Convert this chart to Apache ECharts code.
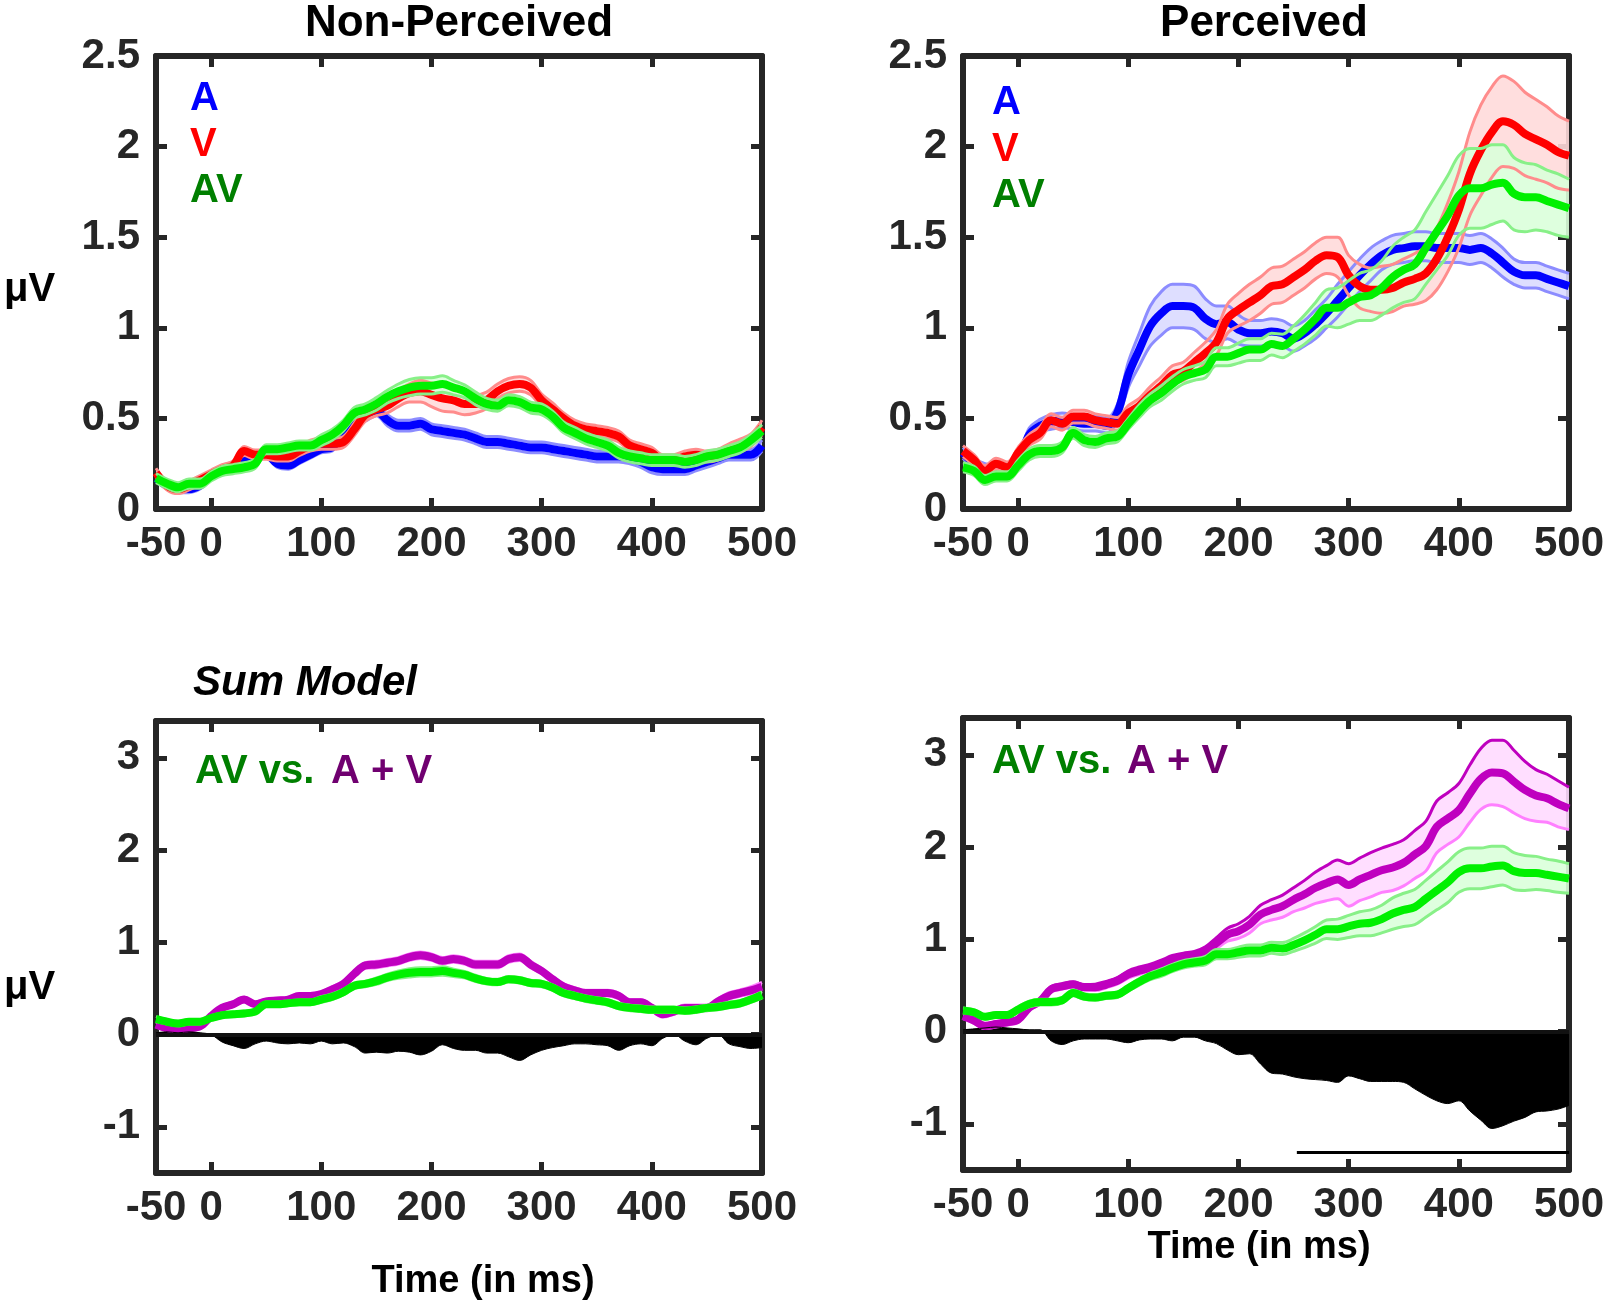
<!DOCTYPE html>
<html>
<head>
<meta charset="utf-8">
<title>AV vs A + V</title>
<script src="https://cdn.jsdelivr.net/npm/echarts@6/dist/echarts.min.js"></script>
<style>
  html, body { margin: 0; padding: 0; background: #fff; }
  #chart { width: 1610px; height: 1308px; }
</style>
</head>
<body>
<div id="chart"></div>
<script>
// sample times (ms)
const times = [-50, -40, -30, -20, -10, 0, 10, 20, 30, 40,
  50, 60, 70, 80, 90, 100, 110, 120, 130, 140,
  150, 160, 170, 180, 190, 200, 210, 220, 230, 240,
  250, 260, 270, 280, 290, 300, 310, 320, 330, 340,
  350, 360, 370, 380, 390, 400, 410, 420, 430, 440,
  450, 460, 470, 480, 490, 500]

const xTicks = [0, 100, 200, 300, 400]
const xLabels = [-50, 0, 100, 200, 300, 400, 500]
const yTicksTop = [0, 0.5, 1, 1.5, 2, 2.5]
const yTicksBottom = [-1, 0, 1, 2, 3]

// Non-Perceived: mean and half-width of shaded band
const npA = [0.17, 0.13, 0.11, 0.11, 0.13, 0.18, 0.22, 0.24, 0.27, 0.29,
  0.30, 0.25, 0.24, 0.27, 0.30, 0.33, 0.34, 0.42, 0.49, 0.51,
  0.54, 0.49, 0.46, 0.46, 0.47, 0.44, 0.43, 0.42, 0.41, 0.39,
  0.37, 0.37, 0.36, 0.35, 0.34, 0.34, 0.33, 0.32, 0.31, 0.30,
  0.29, 0.29, 0.29, 0.28, 0.26, 0.23, 0.22, 0.22, 0.22, 0.24,
  0.26, 0.28, 0.30, 0.30, 0.30, 0.35]
const npAse = [0.02, 0.02, 0.02, 0.02, 0.02, 0.02, 0.02, 0.02, 0.02, 0.02,
  0.02, 0.02, 0.02, 0.02, 0.02, 0.02, 0.02, 0.02, 0.025, 0.025,
  0.025, 0.03, 0.03, 0.03, 0.03, 0.03, 0.03, 0.03, 0.03, 0.03,
  0.03, 0.03, 0.03, 0.03, 0.03, 0.03, 0.03, 0.03, 0.03, 0.03,
  0.03, 0.03, 0.03, 0.03, 0.03, 0.03, 0.03, 0.03, 0.03, 0.03,
  0.03, 0.03, 0.03, 0.03, 0.03, 0.03]
const npV = [0.20, 0.13, 0.11, 0.13, 0.16, 0.19, 0.22, 0.24, 0.32, 0.30,
  0.30, 0.29, 0.29, 0.32, 0.35, 0.36, 0.36, 0.37, 0.44, 0.52,
  0.55, 0.57, 0.61, 0.64, 0.65, 0.63, 0.61, 0.60, 0.58, 0.58,
  0.60, 0.65, 0.68, 0.69, 0.67, 0.60, 0.55, 0.50, 0.46, 0.44,
  0.43, 0.42, 0.40, 0.35, 0.33, 0.31, 0.27, 0.27, 0.29, 0.30,
  0.29, 0.30, 0.33, 0.35, 0.38, 0.45]
const npVse = [0.025, 0.025, 0.025, 0.025, 0.025, 0.025, 0.025, 0.025, 0.025, 0.025,
  0.025, 0.025, 0.025, 0.025, 0.03, 0.03, 0.03, 0.03, 0.035, 0.035,
  0.035, 0.04, 0.045, 0.05, 0.06, 0.065, 0.07, 0.065, 0.06, 0.05,
  0.045, 0.04, 0.04, 0.04, 0.04, 0.035, 0.035, 0.03, 0.03, 0.03,
  0.03, 0.03, 0.03, 0.03, 0.03, 0.03, 0.03, 0.03, 0.03, 0.03,
  0.03, 0.03, 0.03, 0.035, 0.035, 0.04]
const npAV = [0.17, 0.14, 0.12, 0.14, 0.14, 0.18, 0.21, 0.22, 0.23, 0.25,
  0.33, 0.33, 0.34, 0.35, 0.35, 0.38, 0.41, 0.46, 0.53, 0.55,
  0.58, 0.62, 0.65, 0.67, 0.68, 0.68, 0.69, 0.67, 0.65, 0.61,
  0.58, 0.57, 0.60, 0.59, 0.56, 0.55, 0.51, 0.45, 0.42, 0.39,
  0.37, 0.35, 0.31, 0.29, 0.28, 0.27, 0.27, 0.27, 0.26, 0.27,
  0.29, 0.30, 0.32, 0.34, 0.38, 0.43]
const npAVse = [0.025, 0.025, 0.025, 0.025, 0.025, 0.025, 0.025, 0.025, 0.025, 0.025,
  0.025, 0.025, 0.025, 0.025, 0.025, 0.03, 0.03, 0.03, 0.03, 0.03,
  0.035, 0.035, 0.04, 0.045, 0.045, 0.045, 0.045, 0.04, 0.035, 0.035,
  0.03, 0.03, 0.03, 0.03, 0.03, 0.03, 0.03, 0.03, 0.03, 0.03,
  0.03, 0.03, 0.03, 0.03, 0.03, 0.03, 0.03, 0.03, 0.03, 0.03,
  0.03, 0.03, 0.03, 0.03, 0.03, 0.035]

// Perceived
const pA = [0.31, 0.25, 0.22, 0.21, 0.22, 0.26, 0.41, 0.46, 0.48, 0.49,
  0.48, 0.47, 0.47, 0.46, 0.53, 0.74, 0.88, 1.01, 1.08, 1.12,
  1.12, 1.11, 1.05, 1.02, 1.03, 0.99, 0.97, 0.97, 0.98, 0.97,
  0.94, 0.97, 1.02, 1.08, 1.15, 1.22, 1.29, 1.35, 1.40, 1.43,
  1.44, 1.45, 1.45, 1.44, 1.44, 1.44, 1.43, 1.44, 1.41, 1.36,
  1.31, 1.29, 1.29, 1.27, 1.25, 1.23]
const pAse = [0.03, 0.03, 0.03, 0.03, 0.03, 0.03, 0.035, 0.035, 0.04, 0.04,
  0.04, 0.04, 0.04, 0.04, 0.045, 0.07, 0.09, 0.11, 0.12, 0.12,
  0.12, 0.12, 0.11, 0.1, 0.09, 0.08, 0.07, 0.07, 0.07, 0.07,
  0.07, 0.07, 0.08, 0.08, 0.09, 0.09, 0.09, 0.09, 0.08, 0.08,
  0.08, 0.08, 0.08, 0.08, 0.08, 0.08, 0.08, 0.08, 0.08, 0.08,
  0.07, 0.07, 0.07, 0.07, 0.07, 0.07]
const pV = [0.32, 0.27, 0.21, 0.25, 0.23, 0.31, 0.38, 0.42, 0.49, 0.47,
  0.51, 0.51, 0.49, 0.48, 0.47, 0.53, 0.57, 0.63, 0.68, 0.74,
  0.76, 0.81, 0.86, 0.92, 1.05, 1.10, 1.14, 1.18, 1.23, 1.24,
  1.28, 1.32, 1.37, 1.40, 1.39, 1.29, 1.23, 1.21, 1.21, 1.22,
  1.25, 1.27, 1.30, 1.38, 1.50, 1.65, 1.85, 1.98, 2.08, 2.14,
  2.12, 2.07, 2.04, 2.01, 1.97, 1.95]
const pVse = [0.03, 0.03, 0.03, 0.03, 0.03, 0.03, 0.03, 0.035, 0.035, 0.035,
  0.035, 0.035, 0.035, 0.035, 0.035, 0.04, 0.04, 0.045, 0.05, 0.05,
  0.05, 0.055, 0.06, 0.07, 0.08, 0.09, 0.1, 0.1, 0.1, 0.1,
  0.1, 0.1, 0.1, 0.1, 0.11, 0.11, 0.12, 0.12, 0.13, 0.13,
  0.13, 0.14, 0.15, 0.17, 0.19, 0.21, 0.23, 0.25, 0.25, 0.25,
  0.24, 0.23, 0.22, 0.21, 0.2, 0.19]
const pAV = [0.23, 0.21, 0.16, 0.18, 0.18, 0.24, 0.30, 0.32, 0.32, 0.34,
  0.42, 0.38, 0.37, 0.39, 0.40, 0.47, 0.54, 0.60, 0.64, 0.69,
  0.73, 0.75, 0.77, 0.84, 0.84, 0.86, 0.88, 0.88, 0.91, 0.90,
  0.94, 0.99, 1.05, 1.11, 1.11, 1.14, 1.17, 1.18, 1.22, 1.28,
  1.32, 1.35, 1.44, 1.53, 1.62, 1.73, 1.77, 1.77, 1.79, 1.80,
  1.74, 1.72, 1.72, 1.70, 1.68, 1.66]
const pAVse = [0.025, 0.025, 0.025, 0.025, 0.025, 0.03, 0.03, 0.03, 0.03, 0.03,
  0.03, 0.03, 0.03, 0.03, 0.03, 0.03, 0.035, 0.035, 0.04, 0.04,
  0.04, 0.04, 0.045, 0.05, 0.05, 0.055, 0.06, 0.06, 0.06, 0.065,
  0.07, 0.08, 0.09, 0.1, 0.11, 0.12, 0.13, 0.14, 0.15, 0.17,
  0.18, 0.19, 0.2, 0.21, 0.22, 0.22, 0.22, 0.22, 0.22, 0.21,
  0.2, 0.19, 0.18, 0.17, 0.17, 0.16]

// Sum model A + V and AV - (A + V) difference
const npSum = [0.11, 0.07, 0.06, 0.07, 0.09, 0.20, 0.29, 0.33, 0.38, 0.33,
  0.36, 0.37, 0.38, 0.42, 0.42, 0.44, 0.49, 0.55, 0.66, 0.75,
  0.76, 0.78, 0.80, 0.84, 0.86, 0.84, 0.80, 0.82, 0.80, 0.76,
  0.76, 0.76, 0.82, 0.84, 0.76, 0.69, 0.60, 0.52, 0.48, 0.45,
  0.45, 0.45, 0.42, 0.35, 0.35, 0.29, 0.22, 0.25, 0.29, 0.29,
  0.29, 0.36, 0.42, 0.45, 0.48, 0.52]
const npSumSe = [0.025, 0.025, 0.025, 0.025, 0.025, 0.025, 0.025, 0.025, 0.025, 0.025,
  0.025, 0.025, 0.025, 0.025, 0.025, 0.025, 0.03, 0.03, 0.03, 0.03,
  0.035, 0.035, 0.035, 0.035, 0.035, 0.035, 0.035, 0.035, 0.035, 0.035,
  0.035, 0.035, 0.035, 0.035, 0.035, 0.03, 0.03, 0.03, 0.03, 0.03,
  0.03, 0.03, 0.03, 0.03, 0.03, 0.03, 0.03, 0.03, 0.03, 0.03,
  0.03, 0.03, 0.035, 0.035, 0.04, 0.045]
const npDiff = [0.02, 0.03, 0.02, 0.03, 0.02, 0.0, -0.08, -0.12, -0.15, -0.10,
  -0.07, -0.09, -0.10, -0.09, -0.10, -0.07, -0.10, -0.09, -0.13, -0.20,
  -0.19, -0.20, -0.18, -0.19, -0.22, -0.18, -0.11, -0.15, -0.17, -0.17,
  -0.20, -0.20, -0.24, -0.28, -0.22, -0.17, -0.14, -0.12, -0.10, -0.10,
  -0.11, -0.12, -0.17, -0.12, -0.10, -0.12, -0.04, 0.0, -0.07, -0.11,
  -0.04, 0.0, -0.10, -0.13, -0.15, -0.14]
const pSum = [0.17, 0.12, 0.06, 0.08, 0.10, 0.13, 0.26, 0.33, 0.46, 0.49,
  0.51, 0.48, 0.48, 0.51, 0.55, 0.62, 0.66, 0.69, 0.73, 0.78,
  0.80, 0.82, 0.87, 0.96, 1.05, 1.09, 1.16, 1.27, 1.32, 1.36,
  1.43, 1.49, 1.56, 1.61, 1.65, 1.59, 1.65, 1.70, 1.75, 1.78,
  1.83, 1.92, 2.01, 2.22, 2.31, 2.40, 2.58, 2.74, 2.81, 2.80,
  2.71, 2.62, 2.56, 2.53, 2.47, 2.42]
const pSumSe = [0.03, 0.03, 0.03, 0.03, 0.03, 0.03, 0.03, 0.03, 0.03, 0.03,
  0.03, 0.03, 0.035, 0.035, 0.035, 0.04, 0.04, 0.04, 0.045, 0.045,
  0.05, 0.05, 0.05, 0.06, 0.07, 0.08, 0.09, 0.1, 0.11, 0.12,
  0.13, 0.15, 0.17, 0.19, 0.21, 0.23, 0.23, 0.24, 0.24, 0.25,
  0.25, 0.26, 0.27, 0.28, 0.28, 0.29, 0.31, 0.33, 0.35, 0.36,
  0.34, 0.31, 0.28, 0.26, 0.25, 0.23]
const pDiff = [0.02, 0.03, 0.04, 0.05, 0.04, 0.03, 0.02, 0.02, -0.10, -0.14,
  -0.10, -0.08, -0.08, -0.08, -0.10, -0.12, -0.09, -0.08, -0.08, -0.10,
  -0.06, -0.06, -0.10, -0.13, -0.20, -0.25, -0.24, -0.35, -0.45, -0.46,
  -0.49, -0.51, -0.52, -0.53, -0.55, -0.48, -0.51, -0.54, -0.54, -0.54,
  -0.55, -0.62, -0.69, -0.75, -0.78, -0.75, -0.86, -0.96, -1.05, -1.02,
  -0.97, -0.93, -0.87, -0.86, -0.84, -0.80]

// significant window (ms) and the level the bar is drawn at
const sigWindow = [253, 500]
const sigLevel = -1.31

const FONT = "'Liberation Sans', Arial, Helvetica, sans-serif"
const FRAME = '#262626'
const SMOOTH = 0.35

const grids = [
  { left: 156, top: 56, width: 606, height: 453 },
  { left: 963, top: 56, width: 606, height: 453 },
  { left: 156, top: 721, width: 606, height: 452 },
  { left: 963, top: 718, width: 606, height: 452 }
]

const tickLabel = { fontFamily: FONT, fontSize: 42, fontWeight: 'bold', color: FRAME }

function xAxes(gi) {
  const base = {
    gridIndex: gi, type: 'value', min: -50, max: 500,
    splitLine: { show: false },
    axisLine: { onZero: false, lineStyle: { color: FRAME, width: 6 } },
    axisTick: { inside: true, length: 11, customValues: xTicks, lineStyle: { color: FRAME, width: 5 } }
  }
  return [
    { ...base, position: 'bottom', axisLabel: { ...tickLabel, customValues: xLabels, margin: 14 } },
    { ...base, position: 'top', axisLabel: { show: false } }
  ]
}

function yAxes(gi) {
  const top = gi < 2
  const ticks = top ? yTicksTop : yTicksBottom
  const base = {
    gridIndex: gi, type: 'value',
    min: top ? 0 : -1.5, max: top ? 2.5 : 3.4,
    splitLine: { show: false },
    axisLine: { onZero: false, lineStyle: { color: FRAME, width: 6 } },
    axisTick: { inside: true, length: 11, customValues: ticks, lineStyle: { color: FRAME, width: 5 } }
  }
  return [
    { ...base, position: 'left', axisLabel: { ...tickLabel, customValues: ticks, margin: 16 } },
    { ...base, position: 'right', axisLabel: { show: false } }
  ]
}

const COLORS = {
  A: { line: '#0000ff', lower: '#8c8cff', upper: '#8c8cff', fill: 'rgba(218,218,255,0.9)' },
  V: { line: '#ff0000', lower: '#ff8c8c', upper: '#ff8c8c', fill: 'rgba(255,218,218,0.9)' },
  AV: { line: '#00f000', lower: '#88f088', upper: '#88f088', fill: 'rgba(218,255,218,0.9)' },
  sumNp: { line: '#bf00bf', lower: '#ff80ff', upper: '#ff80ff', fill: 'rgba(255,212,255,0.9)' },
  sumP: { line: '#bf00bf', lower: '#ff80ff', upper: '#bf00bf', fill: 'rgba(255,218,255,0.9)' }
}

// shaded band between mean - se and mean + se, drawn as one polygon through the axes
function bandFill(gi, mean, se, fill) {
  return {
    type: 'custom', xAxisIndex: gi * 2, yAxisIndex: gi * 2, silent: true,
    data: times.map((t, i) => [t, mean[i] - se[i], mean[i] + se[i]]),
    encode: { x: 0, y: [1, 2] },
    renderItem(params, api) {
      if (params.dataIndex !== 0) return null
      const n = params.dataInsideLength
      const top = [], bottom = []
      for (let i = 0; i < n; i++) {
        const t = api.value(0, i)
        top.push(api.coord([t, api.value(2, i)]))
        bottom.push(api.coord([t, api.value(1, i)]))
      }
      return {
        type: 'polygon',
        shape: { points: top.concat(bottom.reverse()) },
        style: { fill: fill, stroke: null }
      }
    }
  }
}

function band(gi, name, mean, se, c) {
  const common = { type: 'line', xAxisIndex: gi * 2, yAxisIndex: gi * 2, symbol: 'none', smooth: SMOOTH, silent: true }
  return [
    bandFill(gi, mean, se, c.fill),
    { ...common, data: times.map((t, i) => [t, mean[i] - se[i]]), lineStyle: { color: c.lower, width: 3 } },
    { ...common, data: times.map((t, i) => [t, mean[i] + se[i]]), lineStyle: { color: c.upper, width: 3 } },
    { ...common, name, data: times.map((t, i) => [t, mean[i]]), lineStyle: { color: c.line, width: 8 } }
  ]
}

function diffArea(gi, diff) {
  return {
    type: 'line', xAxisIndex: gi * 2, yAxisIndex: gi * 2, symbol: 'none', smooth: SMOOTH, silent: true,
    data: times.map((t, i) => [t, diff[i]]),
    lineStyle: { color: '#000', width: 1 },
    areaStyle: { color: '#000', opacity: 1, origin: 0 },
    markLine: {
      silent: true, symbol: 'none', label: { show: false },
      lineStyle: { color: '#111', width: 4, type: 'solid' },
      data: [{ yAxis: 0 }]
    }
  }
}

const series = [
  ...band(0, 'A', npA, npAse, COLORS.A),
  ...band(0, 'V', npV, npVse, COLORS.V),
  ...band(0, 'AV', npAV, npAVse, COLORS.AV),
  ...band(1, 'A', pA, pAse, COLORS.A),
  ...band(1, 'V', pV, pVse, COLORS.V),
  ...band(1, 'AV', pAV, pAVse, COLORS.AV),
  ...band(2, 'A+V', npSum, npSumSe, COLORS.sumNp),
  ...band(2, 'AV', npAV, npAVse, COLORS.AV),
  diffArea(2, npDiff),
  ...band(3, 'A+V', pSum, pSumSe, COLORS.sumP),
  ...band(3, 'AV', pAV, pAVse, COLORS.AV),
  diffArea(3, pDiff),
  {
    type: 'line', xAxisIndex: 6, yAxisIndex: 6, symbol: 'none', silent: true,
    data: sigWindow.map(t => [t, sigLevel]),
    lineStyle: { color: '#000', width: 3 }
  }
]

function txt(text, x, y, opts) {
  return {
    type: 'text', x, y, silent: true, z: 100,
    style: Object.assign({
      text, fill: '#000',
      font: 'bold 40px ' + FONT,
      align: 'left', verticalAlign: 'middle',
      textAlign: 'left', textVerticalAlign: 'middle'
    }, opts || {})
  }
}
const center = { align: 'center', textAlign: 'center' }

const graphics = [
  txt('Non-Perceived', 459, 24, { font: 'bold 44px ' + FONT, ...center }),
  txt('Perceived', 1264, 24, { font: 'bold 44px ' + FONT, ...center }),
  txt('\u03bcV', 4, 290),
  txt('\u03bcV', 4, 988),
  txt('Sum Model', 193, 683, { font: 'italic bold 42px ' + FONT }),
  txt('Time (in ms)', 483, 1282, { font: 'bold 38px ' + FONT, ...center }),
  txt('Time (in ms)', 1259, 1248, { font: 'bold 38px ' + FONT, ...center }),
  txt('A', 190, 99, { fill: '#0000ff' }),
  txt('V', 190, 145, { fill: '#ff0000' }),
  txt('AV', 190, 191, { fill: '#007f00' }),
  txt('A', 992, 103, { fill: '#0000ff' }),
  txt('V', 992, 150, { fill: '#ff0000' }),
  txt('AV', 992, 196, { fill: '#007f00' }),
  txt('AV vs.', 195, 772, { fill: '#007f00' }),
  txt('A + V', 331, 772, { fill: '#700070' }),
  txt('AV vs.', 992, 762, { fill: '#007f00' }),
  txt('A + V', 1127, 762, { fill: '#700070' })
]

const chart = echarts.init(document.getElementById('chart'), null, { renderer: 'canvas' })
chart.setOption({
  animation: false,
  backgroundColor: '#fff',
  grid: grids,
  xAxis: [0, 1, 2, 3].flatMap(xAxes),
  yAxis: [0, 1, 2, 3].flatMap(yAxes),
  series,
  graphic: graphics
})
</script>
</body>
</html>
